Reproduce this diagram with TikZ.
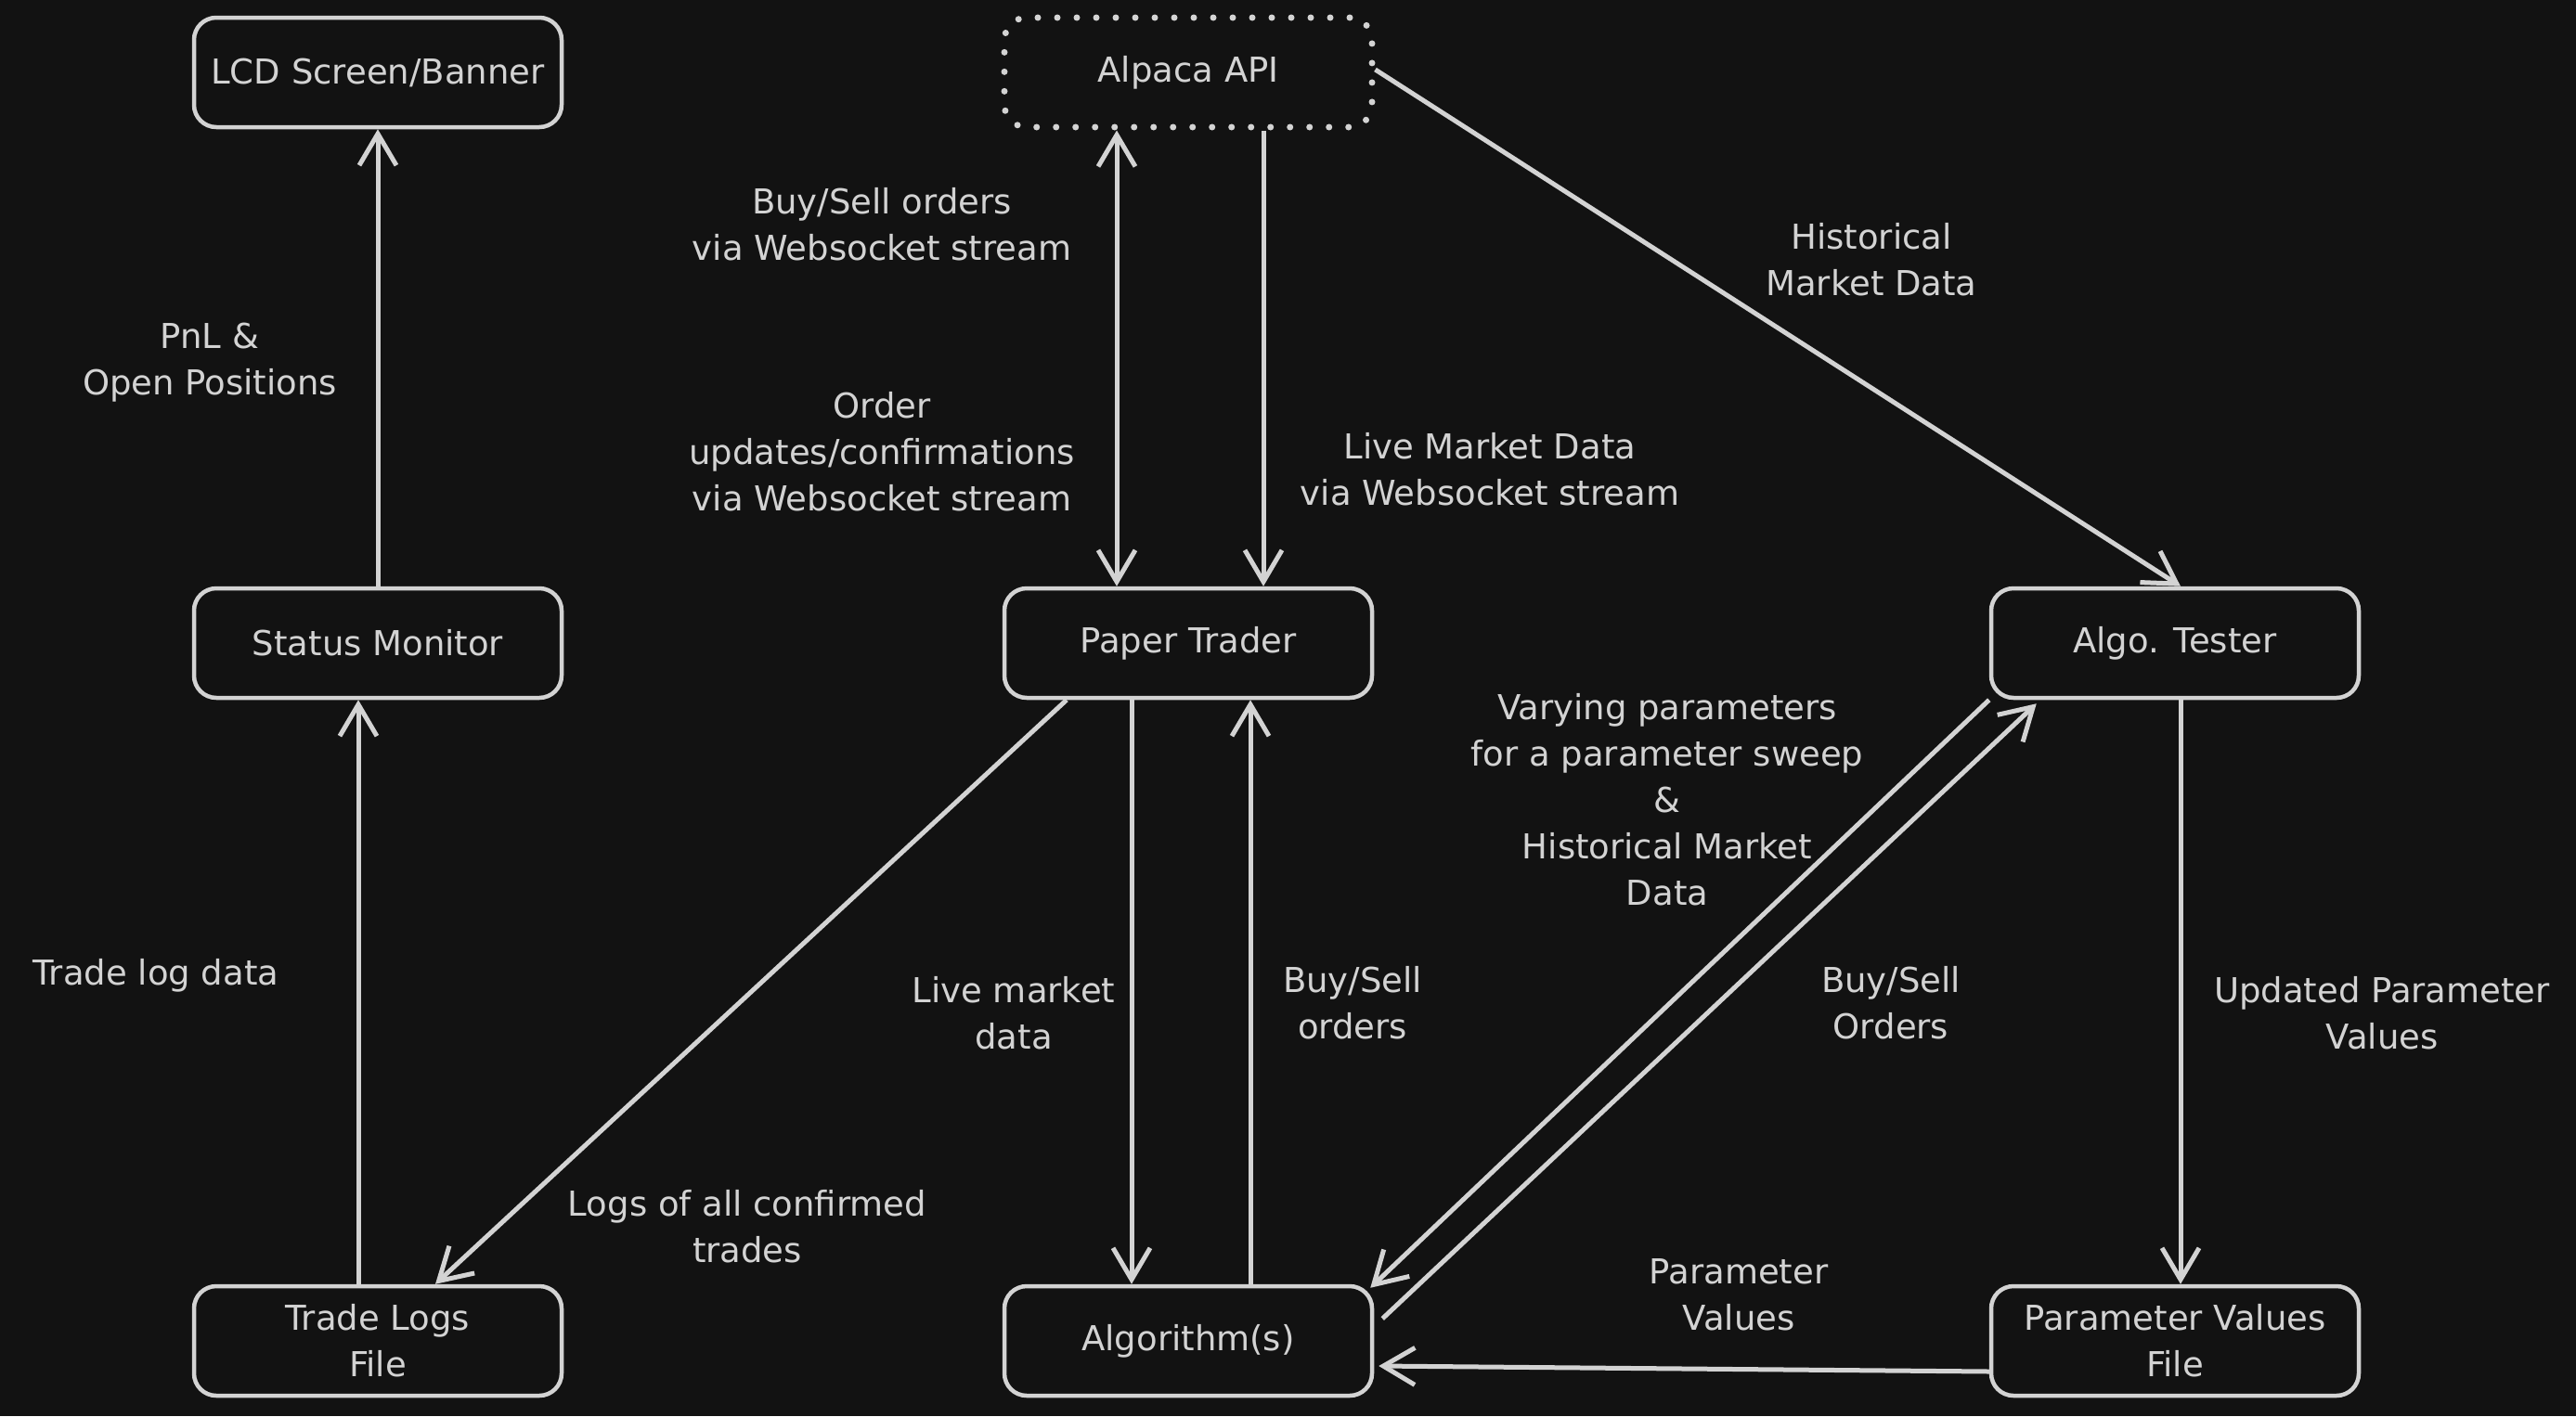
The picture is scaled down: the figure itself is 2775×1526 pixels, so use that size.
\documentclass[tikz,border=0pt]{standalone}
\usepackage{fontspec}
\setmainfont{DejaVu Sans}
\usetikzlibrary{arrows.meta}
\definecolor{bg}{HTML}{121212}
\definecolor{ink}{HTML}{D3D3D3}
\begin{document}
\begin{tikzpicture}[x=1pt,y=-1pt,
  box/.style={draw=ink, line width=4.5pt, rounded corners=24pt, minimum width=396pt, minimum height=118pt, text=ink, font=\fontsize{37}{50}\selectfont, align=center, inner sep=0pt},
  dotbox/.style={box, dash pattern=on 0pt off 21pt, line cap=round, line width=7pt},
  conn/.style={draw=ink, line width=5pt, -{Straight Barb[length=34pt,width=40pt,line width=5pt]}},
  lbl/.style={text=ink, font=\fontsize{37}{50}\selectfont, align=center, inner sep=0pt}]
\fill[bg] (0,0) rectangle (2775,1526);
\useasboundingbox (0,0) rectangle (2775,1526);

\node[box] (lcd) at (407,78) {LCD Screen/Banner};
\node[dotbox] (api) at (1280,78) {};
\node[lbl] (apitext) at (1280,78) {Alpaca API};
\node[box] (sm) at (407,693) {Status Monitor};
\node[box] (pt) at (1280,693) {Paper Trader};
\node[box] (at) at (2343,693) {Algo. Tester};
\node[box] (tl) at (407,1445) {Trade Logs\\File};
\node[box] (alg) at (1280,1445) {Algorithm(s)};
\node[box] (pvf) at (2343,1445) {Parameter Values\\File};

\draw[conn] (sm.north) -- (lcd.south);
\draw[conn] ([xshift=-21pt]tl.north) -- ([xshift=-21pt]sm.south);
\draw[conn, {Straight Barb[length=34pt,width=40pt,line width=5pt]}-{Straight Barb[length=34pt,width=40pt,line width=5pt]}] ([xshift=-77pt]api.south) -- ([xshift=-77pt]pt.north);
\draw[conn] ([xshift=81pt]api.south) -- ([xshift=81pt]pt.north);
\draw[conn] ([yshift=3pt]api.east) -- ([xshift=6pt]at.north);
\draw[conn] ([xshift=-131pt]pt.south) -- ([xshift=62pt]tl.north);
\draw[conn] ([xshift=-61pt]pt.south) -- ([xshift=-61pt]alg.north);
\draw[conn] ([xshift=67pt]alg.north) -- ([xshift=67pt]pt.south);
\draw[conn] (at.south west) -- ([xshift=-4pt,yshift=-4pt]alg.north east);
\draw[conn] ([xshift=9pt,yshift=24pt]alg.east) -- ([xshift=51pt,yshift=-4pt]at.south west);
\draw[conn] ([xshift=6pt]at.south) -- ([xshift=6pt]pvf.north);
\draw[conn] ([yshift=-33pt]pvf.west) -- ([xshift=5pt,yshift=-27pt]alg.east);

\node[lbl] (l1) at (226,391) {PnL \&\\Open Positions};
\node[lbl] (l2) at (168,1051) {Trade log data};
\node[lbl] (l3) at (950,242) {Buy/Sell orders\\via Websocket stream};
\node[lbl] (l4) at (950,487) {Order\\updates/confirmations\\via Websocket stream};
\node[lbl] (l5) at (1605,506) {Live Market Data\\via Websocket stream};
\node[lbl] (l6) at (2016,280) {Historical\\Market Data};
\node[lbl] (l7) at (1796,862) {Varying parameters\\for a parameter sweep\\\&\\Historical Market\\Data};
\node[lbl] (l8) at (1092,1092) {Live market\\data};
\node[lbl] (l9) at (1457,1081) {Buy/Sell\\orders};
\node[lbl] (l10) at (2037,1081) {Buy/Sell\\Orders};
\node[lbl] (l11) at (2566,1092) {Updated Parameter\\Values};
\node[lbl] (l12) at (805,1322) {Logs of all confirmed\\trades};
\node[lbl] (l13) at (1873,1395) {Parameter\\Values};
\end{tikzpicture}
\end{document}
